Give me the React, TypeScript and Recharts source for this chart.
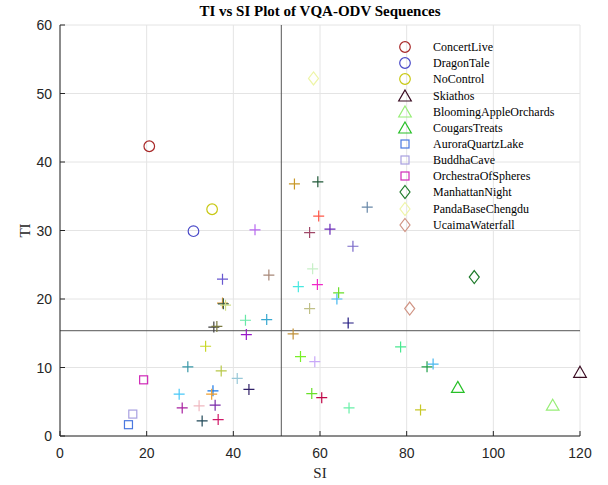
import React from "react";
import { ScatterChart, Scatter, XAxis, YAxis, CartesianGrid, ReferenceLine, Legend } from "recharts";

// axis ticks
const SI_TICKS = [0, 20, 40, 60, 80, 100, 120];
const TI_TICKS = [0, 10, 20, 30, 40, 50, 60];

// named sequences
const sequenceNames = [
  "ConcertLive", "DragonTale", "NoControl", "Skiathos", "BloomingAppleOrchards", "CougarsTreats",
  "AuroraQuartzLake", "BuddhaCave", "OrchestraOfSpheres", "ManhattanNight", "PandaBaseChengdu", "UcaimaWaterfall",
];
const sequenceSI = [20.6, 30.8, 35.1, 120, 113.7, 91.8, 15.8, 16.8, 19.3, 95.6, 58.5, 80.7];
const sequenceTI = [42.3, 29.9, 33.1, 9.3, 4.5, 7.1, 1.65, 3.2, 8.2, 23.2, 52.2, 18.6];

// the remaining (unlabelled) sequences, drawn as "+"
const otherSI = [
  45.0, 48.2, 37.5, 37.5, 37.7, 38.2, 42.8, 47.7, 35.5, 36.2, 43.0, 33.6, 29.5, 37.2, 40.9, 43.6,
  27.5, 35.3, 35.0, 32.1, 35.8, 28.2, 32.8, 36.5,
  54.1, 59.5, 70.9, 59.7, 57.6, 62.3, 67.6, 58.3, 55.0, 59.4, 64.3, 63.9, 57.6, 66.5, 53.8, 55.5,
  58.8, 78.6, 84.7, 86.1, 58.1, 60.4, 66.7, 83.2,
];
const otherTI = [
  30.1, 23.5, 22.9, 19.4, 19.3, 19.1, 16.9, 17.0, 15.9, 16.0, 14.8, 13.1, 10.1, 9.5, 8.4, 6.8,
  6.1, 6.6, 6.1, 4.4, 4.5, 4.1, 2.2, 2.4,
  36.8, 37.1, 33.4, 32.1, 29.7, 30.2, 27.7, 24.4, 21.8, 22.1, 20.9, 20.0, 18.6, 16.5, 14.9, 11.6,
  10.85, 13.0, 10.1, 10.5, 6.2, 5.6, 4.1, 3.8,
];

// dividing lines (means)
const SI_MEAN = 51.07;
const TI_MEAN = 15.37;

const sequenceColors = [
  "#a82828", "#4a4ac8", "#c8c814", "#3a0c22", "#98ee78", "#28c028",
  "#4a78e0", "#a8a0e0", "#d028b8", "#1e7a2a", "#eef5a8", "#d09484",
];
const sequenceMarkers = [
  "circle", "circle", "circle", "triangle", "triangle", "triangle",
  "square", "square", "square", "diamond", "diamond", "diamond",
];
const otherColors = [
  "#b868f0", "#a88878", "#6858d0", "#e09838", "#305a48", "#d0e088", "#68e8a8", "#38a8d0", "#404040", "#7a7a40",
  "#9818c8", "#c8d828", "#3898a8", "#b8c848", "#98c8d8", "#302068",
  "#48c8f8", "#1878e8", "#f0a030", "#f0b8c0", "#7828a8", "#a820a0", "#204858", "#d01868",
  "#c89828", "#205838", "#6888a8", "#ff5848", "#a04868", "#6828b8", "#7868c8", "#c8f0c8", "#48e8e0", "#f028c8",
  "#68e028", "#48b8f0", "#c0c088", "#201880", "#c09038", "#78f028",
  "#c8a8f8", "#48e890", "#20a048", "#48b8f0", "#68e028", "#c00848", "#68f0a8", "#c8c828",
];

const W = 608;
const H = 485;
const PLOT_LEFT = 60;
const PLOT_BOTTOM = 436;
const TICK_FONT = "'Liberation Sans', Arial, sans-serif";
const SERIF = "'Liberation Serif', 'Times New Roman', serif";

const Marker = ({ kind, cx, cy, color }: { kind: string; cx: number; cy: number; color: string }) => {
  if (cx == null || cy == null) return null;
  switch (kind) {
    case "circle":
      return <circle cx={cx} cy={cy} r={5.3} fill="none" stroke={color} strokeWidth={1.2} />;
    case "triangle":
      return (
        <path d={`M${cx},${cy - 6} L${cx + 6.3},${cy + 5} L${cx - 6.3},${cy + 5} Z`} fill="none" stroke={color} strokeWidth={1.2} />
      );
    case "square":
      return <rect x={cx - 4} y={cy - 4} width={8} height={8} fill="none" stroke={color} strokeWidth={1.2} />;
    case "diamond":
      return (
        <path d={`M${cx},${cy - 6.5} L${cx + 5},${cy} L${cx},${cy + 6.5} L${cx - 5},${cy} Z`} fill="none" stroke={color} strokeWidth={1.2} />
      );
    default:
      return (
        <path d={`M${cx - 5.5},${cy} H${cx + 5.5} M${cx},${cy - 5.5} V${cy + 5.5}`} fill="none" stroke={color} strokeWidth={1.2} />
      );
  }
};

const XTick = (props: any) => {
  const { x, payload } = props;
  return (
    <g>
      <line x1={x} x2={x} y1={PLOT_BOTTOM} y2={PLOT_BOTTOM - 5} stroke="#262626" />
      <text x={x} y={PLOT_BOTTOM + 22} textAnchor="middle" fontSize={14} fontFamily={TICK_FONT} fill="#262626">
        {payload.value}
      </text>
    </g>
  );
};

const YTick = (props: any) => {
  const { y, payload } = props;
  return (
    <g>
      <line x1={PLOT_LEFT} x2={PLOT_LEFT + 5} y1={y} y2={y} stroke="#262626" />
      <text x={PLOT_LEFT - 8} y={y} dy="0.36em" textAnchor="end" fontSize={14} fontFamily={TICK_FONT} fill="#262626">
        {payload.value}
      </text>
    </g>
  );
};

const LegendBox = () => (
  <div style={{ fontFamily: SERIF, fontSize: 12, color: "#000" }}>
    {sequenceNames.map((name, i) => (
      <div key={name} style={{ display: "flex", alignItems: "center", height: 16.17 }}>
        <svg width={26} height={16} style={{ overflow: "visible" }}>
          <Marker kind={sequenceMarkers[i]} cx={13} cy={8} color={sequenceColors[i]} />
        </svg>
        <span style={{ marginLeft: 15, lineHeight: "16px" }}>{name}</span>
      </div>
    ))}
  </div>
);

export default function App() {
  const otherData = otherSI.map((si, i) => ({ si, ti: otherTI[i], idx: i }));

  return (
    <div style={{ position: "absolute", left: 0, top: 0, width: W, height: H, background: "#fff" }}>
      <div
        style={{
          position: "absolute",
          left: 0,
          top: 3,
          width: 640,
          textAlign: "center",
          fontFamily: SERIF,
          fontWeight: "bold",
          fontSize: 15,
          color: "#000",
          zIndex: 2,
        }}
      >
        TI vs SI Plot of VQA-ODV Sequences
      </div>
      <ScatterChart width={W} height={H} margin={{ top: 25, right: 28, bottom: 0, left: 0 }}>
        <CartesianGrid stroke="#e4e4e4" strokeWidth={1} />
        <XAxis
          type="number"
          dataKey="si"
          domain={[0, 120]}
          ticks={SI_TICKS}
          height={49}
          axisLine={{ stroke: "#262626" }}
          tickLine={false}
          tick={<XTick />}
          label={{ value: "SI", position: "insideBottom", offset: 7, style: { fontFamily: SERIF, fontSize: 15, fill: "#262626" } }}
        />
        <YAxis
          type="number"
          dataKey="ti"
          domain={[0, 60]}
          ticks={TI_TICKS}
          width={60}
          axisLine={{ stroke: "#262626" }}
          tickLine={false}
          tick={<YTick />}
          label={{ value: "TI", angle: -90, position: "center", dx: -5, style: { fontFamily: SERIF, fontSize: 15, fill: "#262626" } }}
        />
        <ReferenceLine x={SI_MEAN} stroke="#555" strokeWidth={1} />
        <ReferenceLine y={TI_MEAN} stroke="#555" strokeWidth={1} />
        <Scatter
          data={otherData}
          isAnimationActive={false}
          legendType="none"
          shape={(p: any) => <Marker kind="plus" cx={p.cx} cy={p.cy} color={otherColors[p.payload.idx]} />}
        />
        {sequenceNames.map((name, i) => (
          <Scatter
            key={name}
            name={name}
            data={[{ si: sequenceSI[i], ti: sequenceTI[i] }]}
            isAnimationActive={false}
            shape={(p: any) => <Marker kind={sequenceMarkers[i]} cx={p.cx} cy={p.cy} color={sequenceColors[i]} />}
          />
        ))}
        <Legend
          layout="vertical"
          align="center"
          verticalAlign="middle"
          content={() => <LegendBox />}
          wrapperStyle={{ left: 392, top: 39, width: 200, height: 200 }}
        />
      </ScatterChart>
    </div>
  );
}
